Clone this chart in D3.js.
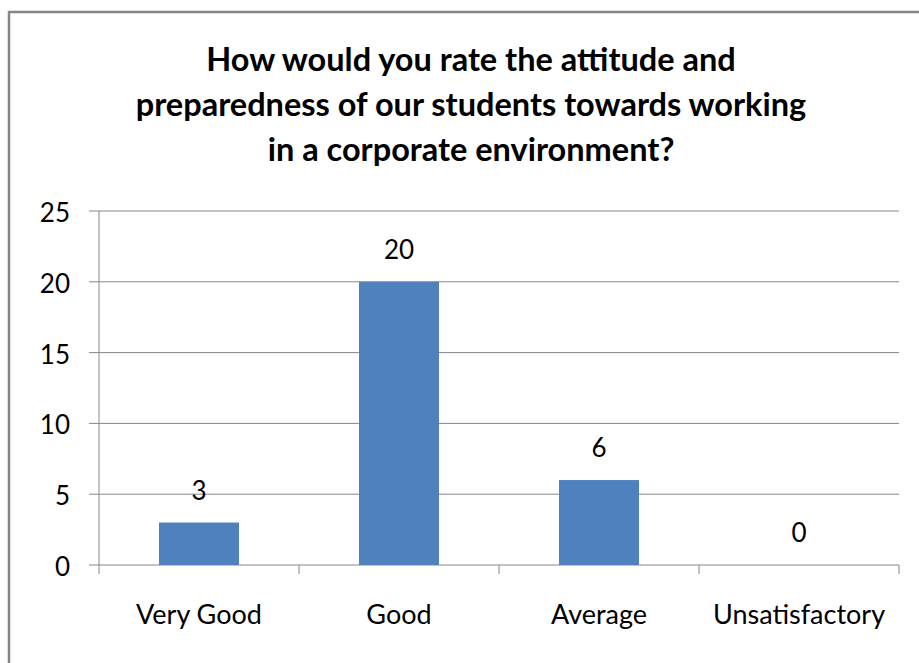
<!DOCTYPE html>
<html>
<head>
<meta charset="utf-8">
<script src="https://cdn.jsdelivr.net/npm/d3@7"></script>
<style>
  body { margin: 0; background: #fff; }
  text { font-family: Lato, "Liberation Sans", sans-serif; fill: #000; }
</style>
</head>
<body>
<div id="chart"></div>
<script>
const categories = ["Very Good", "Good", "Average", "Unsatisfactory"]
const counts = [3, 20, 6, 0]
const yTicks = [0, 5, 10, 15, 20, 25]
const titleLines = [
    "How would you rate the attitude and",
    "preparedness of our students towards working",
    "in a corporate environment?"
]

const width = 919
const height = 663
const margin = { top: 211, bottom: 98, left: 99, right: 20 }

const svg = d3.select("div#chart").append("svg").attr("width", width).attr("height", height)

// chart border
svg.append("rect")
    .attr("x", 9).attr("y", 12)
    .attr("width", width + 20).attr("height", height + 20)
    .attr("fill", "none").attr("stroke", "#868686").attr("stroke-width", 2.5)

svg.append("g").selectAll("text").data(titleLines).enter().append("text")
    .attr("x", 471)
    .attr("y", (d, i) => 71 + i * 45)
    .attr("text-anchor", "middle")
    .style("font-size", "32.5px")
    .style("font-weight", "bold")
    .text(d => d)

const x = d3.scaleBand().domain(categories).range([margin.left, 899]).paddingInner(0).paddingOuter(0)
const y = d3.scaleLinear().domain([0, 25]).range([565, margin.top])

// gridlines
svg.append("g").selectAll("line").data(yTicks).enter().append("line")
    .attr("x1", margin.left - 10).attr("x2", 899)
    .attr("y1", d => y(d)).attr("y2", d => y(d))
    .attr("stroke", "#868686").attr("stroke-width", 1)

// y axis line
svg.append("line")
    .attr("x1", margin.left).attr("x2", margin.left)
    .attr("y1", y(25)).attr("y2", y(0))
    .attr("stroke", "#868686")

// x ticks
const xTickPos = categories.map(c => x(c)).concat([x.range()[1]])
svg.append("g").selectAll("line").data(xTickPos).enter().append("line")
    .attr("x1", d => d).attr("x2", d => d)
    .attr("y1", y(0)).attr("y2", y(0) + 9)
    .attr("stroke", "#868686")

// y labels
svg.append("g").selectAll("text").data(yTicks).enter().append("text")
    .attr("x", 70)
    .attr("y", d => y(d) + 11)
    .attr("text-anchor", "end")
    .style("font-size", "26px")
    .text(d => d)

// bars
const barW = 80
svg.append("g").selectAll("rect").data(counts).enter().append("rect")
    .attr("x", (d, i) => x(categories[i]) + x.bandwidth() / 2 - barW / 2)
    .attr("y", d => y(d))
    .attr("width", barW)
    .attr("height", d => y(0) - y(d))
    .attr("fill", "#4F81BD")

// value labels
svg.append("g").selectAll("text").data(counts).enter().append("text")
    .attr("x", (d, i) => x(categories[i]) + x.bandwidth() / 2)
    .attr("y", d => y(d) - 23)
    .attr("text-anchor", "middle")
    .style("font-size", "26px")
    .text(d => d)

// category labels
svg.append("g").selectAll("text").data(categories).enter().append("text")
    .attr("x", d => x(d) + x.bandwidth() / 2)
    .attr("y", 624)
    .attr("text-anchor", "middle")
    .style("font-size", "27px")
    .text(d => d)
</script>
</body>
</html>
